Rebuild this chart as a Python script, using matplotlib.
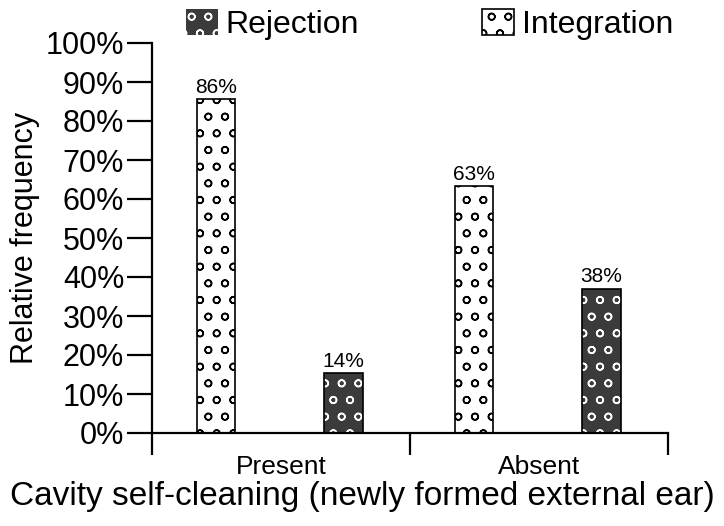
import matplotlib
matplotlib.use("Agg")
import matplotlib.pyplot as plt
from matplotlib.patches import Patch
from matplotlib.ticker import FixedLocator, NullFormatter, FixedFormatter

plt.rcParams['font.family'] = ['Liberation Sans', 'DejaVu Sans']
plt.rcParams['hatch.linewidth'] = 1.1

categories = ["Present", "Absent"]
integration = [85.6, 63.3]
rejection = [15.3, 37.0]
integration_labels = ["86%", "63%"]
rejection_labels = ["14%", "38%"]
yticks = [0, 10, 20, 30, 40, 50, 60, 70, 80, 90, 100]

dark = "#3b3b3b"

fig = plt.figure(figsize=(7.24, 5.26), dpi=100)
ax = fig.add_axes([152/724, 1-433/526, (668-152)/724, (433-43)/526])

w = 0.148
xi = [i + 0.248 for i in range(len(categories))]
xr = [i + 0.742 for i in range(len(categories))]

ax.bar(xi, integration, width=w, color="white", edgecolor="black", hatch="o", linewidth=1.2, zorder=2)
# rejection: white hatch on dark fill, then black outline
ax.bar(xr, rejection, width=w, color=dark, edgecolor="white", hatch="o", linewidth=0, zorder=2)
ax.bar(xr, rejection, width=w, color="none", edgecolor="black", linewidth=1.2, zorder=3)

for x, v, t in zip(xi, integration, integration_labels):
    ax.text(x, v + 0.6, t, ha="center", va="bottom", fontsize=15)
for x, v, t in zip(xr, rejection, rejection_labels):
    ax.text(x, v + 0.6, t, ha="center", va="bottom", fontsize=15)

ax.set_xlim(0, 2)
ax.set_ylim(0, 100)
ax.spines['top'].set_visible(False)
ax.spines['right'].set_visible(False)
for s in ['left', 'bottom']:
    ax.spines[s].set_linewidth(1.6)

ax.set_yticks(yticks)
ax.set_yticklabels([f"{t}%" for t in yticks], fontsize=22)
ax.tick_params(axis='y', direction='out', length=18, width=1.6, pad=2)

ax.xaxis.set_major_locator(FixedLocator([0, 1, 2]))
ax.xaxis.set_major_formatter(NullFormatter())
ax.xaxis.set_minor_locator(FixedLocator([0.5, 1.5]))
ax.xaxis.set_minor_formatter(FixedFormatter(categories))
ax.tick_params(axis='x', which='major', direction='out', length=16, width=1.6)
ax.tick_params(axis='x', which='minor', length=0, labelsize=19, pad=16)

ax.set_ylabel("Relative frequency", fontsize=22, labelpad=4)
ax.set_xlabel("Cavity self-cleaning (newly formed external ear)", fontsize=24)
ax.xaxis.set_label_coords((362 - 152) / 516, (433 - 481) / 390)

handles = [Patch(facecolor=dark, edgecolor="white", hatch="o", linewidth=0),
           Patch(facecolor="white", edgecolor="black", hatch="o", linewidth=1.2)]
leg = fig.legend(handles, ["Rejection", "Integration"], loc="upper left",
                 bbox_to_anchor=(160/724, 1.031), ncol=2, frameon=False, fontsize=23,
                 handlelength=1.0, handleheight=0.85, handletextpad=0.25, columnspacing=3.85,
                 borderpad=0.3)

fig.savefig("out.png", dpi=100)
